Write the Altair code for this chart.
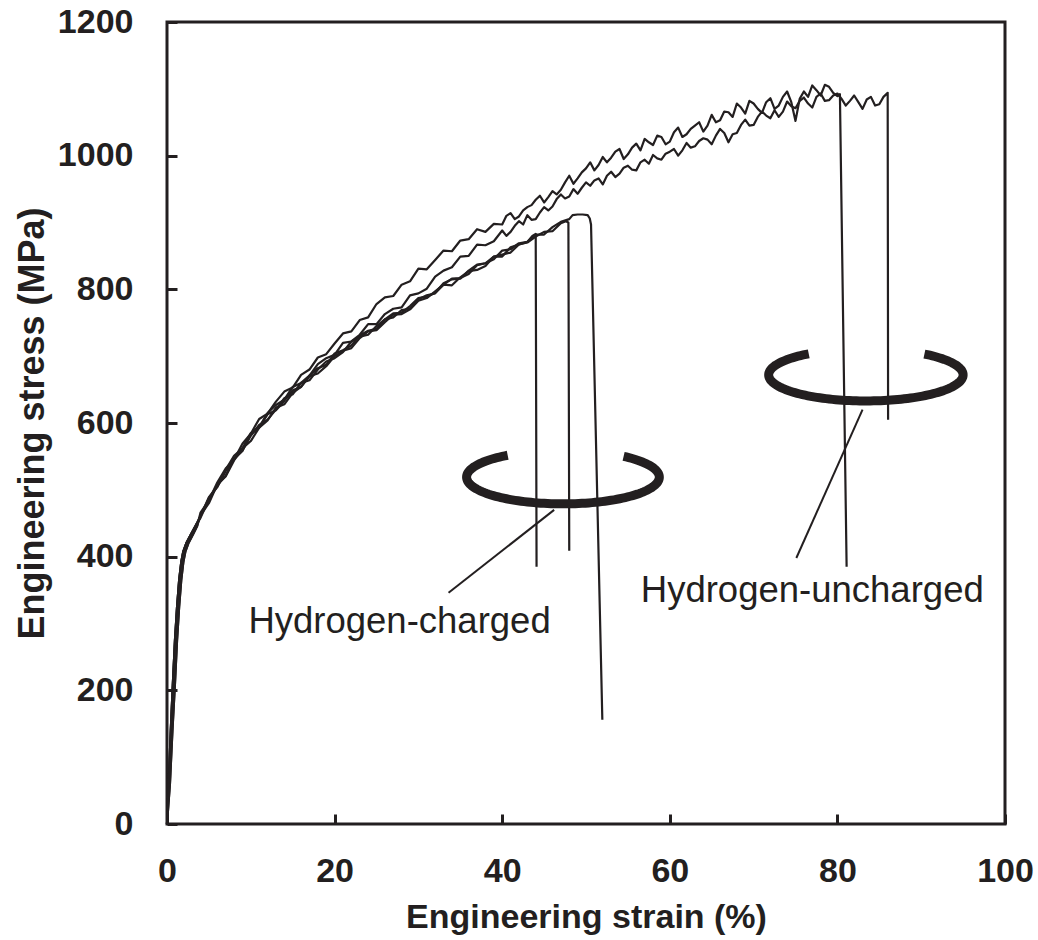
import altair as alt
import numpy as np
import pandas as pd

FONT = "Liberation Sans"
INK = "#231f20"

# ---------------- data ----------------
ELASTIC_STRESS = [0, 60, 140, 210, 275, 325, 365, 392, 408, 420, 432, 446]
ELASTIC_STRAIN_A = [0, 0.2, 0.45, 0.7, 0.95, 1.2, 1.45, 1.7, 1.95, 2.3, 2.8, 3.4]
ELASTIC_STRAIN_B = [0, 0.35, 0.65, 0.95, 1.2, 1.45, 1.7, 1.95, 2.2, 2.55, 3.05, 3.6]

# Hydrogen-charged specimens
C1_STRAIN = [4, 5, 6, 7, 8, 9, 10, 11, 12, 13, 14, 15, 16, 17, 18, 19, 20, 21, 22, 23,
             24, 25, 26, 27, 28, 29, 30, 31, 32, 33, 34, 35, 36, 37, 38, 39, 40, 41, 42, 43,
             43.6, 44.0, 44.1]
C1_STRESS = [460, 488, 504, 528, 546, 558, 583, 593, 613, 619, 633, 649, 654, 671, 682, 687, 704, 709, 716, 731,
             738, 741, 755, 764, 765, 775, 787, 789, 795, 809, 815, 816, 828, 837, 839, 845, 858, 860, 869, 871,
             880, 883, 385]

C2_STRAIN = [4, 5, 6, 7, 8, 9, 10, 11, 12, 13, 14, 15, 16, 17, 18, 19, 20, 21, 22, 23,
             24, 25, 26, 27, 28, 29, 30, 31, 32, 33, 34, 35, 36, 37, 38, 39, 40, 41, 42, 43,
             44, 45, 46, 47, 47.6, 47.9, 48.0]
C2_STRESS = [462, 480, 508, 520, 544, 562, 573, 593, 604, 623, 628, 645, 654, 670, 674, 685, 700, 708, 712, 727,
             737, 739, 751, 762, 763, 770, 783, 787, 797, 807, 806, 818, 827, 829, 835, 849, 852, 855, 867, 870,
             879, 886, 887, 899, 902, 900, 409]

C3_STRAIN = [4, 5, 6, 7, 8, 9, 10, 11, 12, 13, 14, 15, 16, 17, 18, 19, 20, 21, 22, 23,
             24, 25, 26, 27, 28, 29, 30, 31, 32, 33, 34, 35, 36, 37, 38, 39, 40, 41, 42, 43,
             44, 45, 46, 47, 48, 48.4, 49.0, 49.6, 50.2, 50.45, 50.6, 51.95]
C3_STRESS = [458, 486, 507, 521, 547, 559, 581, 597, 605, 620, 637, 643, 660, 664, 680, 692, 697, 706, 722, 729,
             732, 745, 755, 758, 769, 771, 785, 791, 794, 807, 816, 817, 823, 836, 839, 849, 849, 863, 867, 871,
             882, 882, 893, 901, 905, 911, 912, 912, 911, 906, 897, 156]

# Hydrogen-uncharged specimens
U1_STRAIN = [4, 5, 6, 7, 8, 9, 10, 11, 12, 13, 14, 15, 16, 17, 18, 19, 20, 21, 22, 23,
             24, 25, 26, 27, 28, 29, 30, 31, 32, 33, 34, 35, 36, 37, 38, 39,
             40, 40.5, 41, 41.5, 42, 42.5, 43, 43.5, 44, 44.5, 45, 45.5, 46, 46.5, 47, 47.5,
             48, 48.5, 49, 49.5, 50, 50.5, 51, 51.5, 52, 52.5, 53, 53.5, 54, 54.5, 55, 55.5,
             56, 56.5, 57, 57.5, 58, 58.5, 59, 59.5, 60, 60.5, 61, 61.5, 62, 62.5, 63, 63.5,
             64, 64.5, 65, 65.5, 66, 66.5, 67, 67.5, 68, 68.5, 69, 69.5, 70, 70.5, 71, 71.5,
             72, 72.5, 73, 73.5, 74, 74.5, 75, 75.5, 76, 76.5, 77, 77.5, 78, 78.5, 79, 79.5,
             80, 80.3, 81.1]
U1_STRESS = [466, 484, 511, 532, 545, 569, 584, 606, 614, 632, 647, 653, 672, 680, 698, 703, 719, 734, 737, 754,
             758, 778, 788, 790, 807, 812, 831, 830, 844, 858, 857, 873, 875, 890, 886, 898,
             897, 910, 914, 905, 909, 918, 923, 926, 934, 940, 930, 938, 947, 942, 949, 960,
             970, 958, 966, 975, 981, 990, 978, 986, 998, 990, 997, 1006, 1010, 995, 1002, 1012,
             1018, 1008, 1025, 1020, 1016, 1030, 1028, 1017, 1021, 1035, 1042, 1028, 1032, 1040, 1045, 1050,
             1036, 1045, 1061, 1050, 1053, 1066, 1065, 1058, 1078, 1072, 1063, 1082, 1078, 1070, 1064, 1080,
             1086, 1070, 1075, 1088, 1096, 1080, 1052, 1085, 1096, 1088, 1105, 1098, 1090, 1106, 1103, 1094,
             1089, 1092, 385]

U2_STRAIN = [4, 5, 6, 7, 8, 9, 10, 11, 12, 13, 14, 15, 16, 17, 18, 19, 20, 21, 22, 23,
             24, 25, 26, 27, 28, 29, 30, 31, 32, 33, 34, 35, 36, 37, 38, 39,
             40, 40.5, 41, 41.5, 42, 42.5, 43, 43.5, 44, 44.5, 45, 45.5, 46, 46.5, 47, 47.5,
             48, 48.5, 49, 49.5, 50, 50.5, 51, 51.5, 52, 52.5, 53, 53.5, 54, 54.5, 55, 55.5,
             56, 56.5, 57, 57.5, 58, 58.5, 59, 59.5, 60, 60.5, 61, 61.5, 62, 62.5, 63, 63.5,
             64, 64.5, 65, 65.5, 66, 66.5, 67, 67.5, 68, 68.5, 69, 69.5, 70, 70.5, 71, 71.5,
             72, 72.5, 73, 73.5, 74, 74.5, 75, 75.5, 76, 76.5, 77, 77.5, 78, 78.5, 79, 79.5,
             80, 80.5, 81, 81.5, 82, 82.5, 83, 83.5, 84, 84.5, 85, 85.5, 86, 86.05]
U2_STRESS = [461, 489, 505, 530, 551, 562, 585, 594, 615, 627, 635, 654, 660, 671, 688, 697, 702, 720, 722, 732,
             748, 748, 763, 771, 773, 791, 794, 801, 819, 828, 833, 849, 850, 867, 866, 872,
             888, 880, 886, 895, 902, 897, 911, 904, 905, 915, 923, 918, 924, 935, 942, 936,
             939, 950, 943, 952, 960, 955, 963, 966, 957, 970, 976, 968, 973, 982, 985, 979,
             978, 990, 994, 988, 1001, 996, 994, 1003, 1006, 1010, 1000, 1008, 1019, 1012, 1014, 1022,
             1026, 1024, 1017, 1030, 1040, 1034, 1020, 1032, 1034, 1046, 1054, 1045, 1046, 1058, 1066, 1060,
             1056, 1068, 1058, 1066, 1081, 1074, 1071, 1082, 1087, 1078, 1072, 1088, 1093, 1082, 1083, 1090,
             1093, 1085, 1075, 1082, 1090, 1080, 1070, 1084, 1088, 1075, 1077, 1088, 1094, 605]

CURVES = {
    "charged-1": (ELASTIC_STRAIN_A, C1_STRAIN, C1_STRESS),
    "charged-2": (ELASTIC_STRAIN_B, C2_STRAIN, C2_STRESS),
    "charged-3": (ELASTIC_STRAIN_A, C3_STRAIN, C3_STRESS),
    "uncharged-1": (ELASTIC_STRAIN_B, U1_STRAIN, U1_STRESS),
    "uncharged-2": (ELASTIC_STRAIN_A, U2_STRAIN, U2_STRESS),
}

# annotation geometry (data units)
ELLIPSES = {
    "charged": dict(cx=47.25, cy=519, rx=11.5, ry=40, start=125, end=411),
    "uncharged": dict(cx=83.4, cy=672, rx=11.6, ry=39, start=126, end=413),
}
LEADERS = {
    "charged": ([33.6, 46.2], [346, 470]),
    "uncharged": ([75.1, 83.0], [398, 620]),
}
LABELS = ["Hydrogen-charged", "Hydrogen-uncharged"]
LABEL_X = [27.75, 77.0]
LABEL_Y = [286, 332]

# ---------------- tables ----------------
rows = []
for name, (ex, xs, ys) in CURVES.items():
    sx = ex + xs
    sy = ELASTIC_STRESS + ys
    for i, (a, b) in enumerate(zip(sx, sy)):
        rows.append({"curve": name, "idx": i, "strain": a, "stress": b})
curves_df = pd.DataFrame(rows)

erows = []
for name, e in ELLIPSES.items():
    t = np.radians(np.linspace(e["start"], e["end"], 140))
    for i, tt in enumerate(t):
        erows.append({"name": name, "idx": i,
                      "strain": e["cx"] + e["rx"] * np.cos(tt),
                      "stress": e["cy"] + e["ry"] * np.sin(tt)})
ell_df = pd.DataFrame(erows)

lrows = []
for name, (xs, ys) in LEADERS.items():
    for i, (a, b) in enumerate(zip(xs, ys)):
        lrows.append({"name": name, "idx": i, "strain": a, "stress": b})
lead_df = pd.DataFrame(lrows)

text_df = pd.DataFrame({"label": LABELS, "strain": LABEL_X, "stress": LABEL_Y})

# ---------------- encodings ----------------
xaxis = alt.Axis(title="Engineering strain (%)", values=[0, 20, 40, 60, 80, 100], format="d",
                 grid=False, domain=False, tickSize=10, tickWidth=3, tickColor=INK, offset=-10,
                 labelPadding=30, labelFont=FONT, labelFontSize=34, labelFontWeight="bold",
                 labelColor=INK, labelFlush=False, labelOverlap=False,
                 titleFont=FONT, titleFontSize=34, titleFontWeight="bold", titleColor=INK,
                 titlePadding=12)
yaxis = alt.Axis(title="Engineering stress (MPa)", values=[0, 200, 400, 600, 800, 1000, 1200], format="d",
                 grid=False, domain=False, tickSize=10, tickWidth=3, tickColor=INK, offset=-10,
                 labelPadding=34, labelFont=FONT, labelFontSize=34, labelFontWeight="bold",
                 labelColor=INK, labelFlush=False, labelOverlap=False,
                 titleFont=FONT, titleFontSize=36, titleFontWeight="bold", titleColor=INK,
                 titlePadding=6)

X = alt.X("strain:Q", scale=alt.Scale(domain=[0, 100], nice=False, zero=False), axis=xaxis)
Y = alt.Y("stress:Q", scale=alt.Scale(domain=[0, 1200], nice=False, zero=False), axis=yaxis)

lines = alt.Chart(curves_df).mark_line(color=INK, strokeWidth=2.2, strokeJoin="round").encode(
    x=X, y=Y, detail="curve:N", order="idx:Q")

ellipses = alt.Chart(ell_df).mark_line(color=INK, strokeWidth=9, strokeCap="butt").encode(
    x=X, y=Y, detail="name:N", order="idx:Q")

leaders = alt.Chart(lead_df).mark_line(color=INK, strokeWidth=2).encode(
    x=X, y=Y, detail="name:N", order="idx:Q")

texts = alt.Chart(text_df).mark_text(font=FONT, fontSize=36.5, color=INK, align="center",
                                     baseline="alphabetic").encode(x=X, y=Y, text="label:N")

chart = alt.layer(lines, ellipses, leaders, texts).properties(
    width=838, height=802,
    padding={"left": 167, "top": 22, "right": 33, "bottom": 116},
    autosize=alt.AutoSizeParams(type="none"),
    background="white",
).configure_view(stroke=INK, strokeWidth=3)

chart.save("out.html", embed_options={"renderer": "svg", "actions": False})
